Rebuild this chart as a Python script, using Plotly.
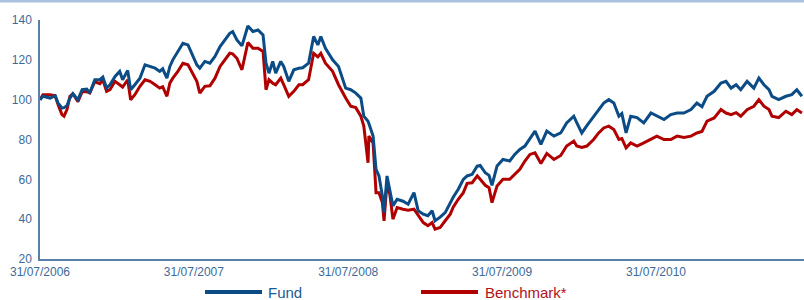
import plotly.graph_objects as go

dates = [
    "2006-07-31", "2006-08-07", "2006-08-24", "2006-09-05", "2006-09-12", "2006-09-21", "2006-09-26",
    "2006-10-03", "2006-10-10", "2006-10-17", "2006-10-29", "2006-11-08", "2006-11-19", "2006-11-26",
    "2006-12-08", "2006-12-20", "2006-12-27", "2007-01-05", "2007-01-13", "2007-01-25", "2007-02-05",
    "2007-02-12", "2007-02-24", "2007-03-03", "2007-03-13", "2007-03-25", "2007-04-06", "2007-04-18",
    "2007-04-30", "2007-05-11", "2007-05-18", "2007-05-28", "2007-06-04", "2007-06-11", "2007-06-23",
    "2007-07-05", "2007-07-17", "2007-07-26", "2007-08-07", "2007-08-14", "2007-08-26", "2007-09-07",
    "2007-09-19", "2007-10-01", "2007-10-13", "2007-10-24", "2007-10-31", "2007-11-10", "2007-11-22",
    "2007-12-06", "2007-12-18", "2007-12-30", "2008-01-11", "2008-01-18", "2008-01-25", "2008-02-03",
    "2008-02-10", "2008-02-22", "2008-02-29", "2008-03-12", "2008-03-24", "2008-04-05", "2008-04-14",
    "2008-04-28", "2008-05-10", "2008-05-20", "2008-05-27", "2008-06-07", "2008-06-24", "2008-07-08",
    "2008-07-25", "2008-08-06", "2008-08-18", "2008-08-30", "2008-09-06", "2008-09-16", "2008-09-18",
    "2008-09-28", "2008-10-05", "2008-10-12", "2008-10-20", "2008-10-24", "2008-10-31", "2008-11-07",
    "2008-11-14", "2008-11-24", "2008-12-08", "2008-12-20", "2009-01-03", "2009-01-13", "2009-01-25",
    "2009-02-05", "2009-02-15", "2009-02-22", "2009-03-06", "2009-03-18", "2009-03-30", "2009-04-06",
    "2009-04-18", "2009-04-30", "2009-05-09", "2009-05-21", "2009-06-02", "2009-06-09", "2009-06-21",
    "2009-06-30", "2009-07-07", "2009-07-19", "2009-08-02", "2009-08-18", "2009-08-30", "2009-09-11",
    "2009-09-23", "2009-10-05", "2009-10-17", "2009-10-31", "2009-11-14", "2009-12-01", "2009-12-17",
    "2009-12-31", "2010-01-17", "2010-01-24", "2010-02-05", "2010-02-17", "2010-03-05", "2010-03-17",
    "2010-03-29", "2010-04-10", "2010-04-22", "2010-05-04", "2010-05-11", "2010-05-21", "2010-06-01",
    "2010-06-16", "2010-07-02", "2010-07-19", "2010-08-02", "2010-08-19", "2010-09-04", "2010-09-19",
    "2010-10-05", "2010-10-22", "2010-11-05", "2010-11-17", "2010-11-29", "2010-12-16", "2011-01-01",
    "2011-01-13", "2011-01-25", "2011-02-06", "2011-02-17", "2011-03-04", "2011-03-20", "2011-04-01",
    "2011-04-13", "2011-04-25", "2011-05-02", "2011-05-18", "2011-06-04", "2011-06-18", "2011-06-30",
    "2011-07-12",
]

fund = [
    100, 101.7, 100.8, 102, 98.3, 95.8, 96,
    97, 100.8, 103, 100, 105, 105.3, 103.3,
    110, 110, 111.3, 105.8, 107.5, 111.7, 114.2,
    110, 114.7, 105, 107.5, 110.8, 117.5, 116.7,
    115.8, 114.2, 115.5, 110.8, 116.7, 120, 124.2,
    128.3, 127.5, 123.3, 117.5, 115.8, 119.2, 118.3,
    121.7, 126.7, 130, 133.3, 134.2, 130, 127,
    137, 134.2, 135, 132.5, 118.3, 113.3, 119.2,
    113.3, 119.2, 116.7, 109.2, 115, 115.8, 116,
    118.3, 131.7, 127.5, 131.7, 125.8, 120, 116.7,
    105.8, 105, 103.3, 100.8, 91.7, 89.2, 88,
    81.7, 65, 61.7, 51.7, 43.3, 61.7, 55,
    46.7, 50, 49, 47.5, 53.3, 44.2, 42.5,
    41.7, 44.2, 39.2, 41, 43.3, 48.3, 51,
    55, 60, 61.7, 62.5, 66.7, 67, 63.3,
    62, 57, 66.7, 70, 69.2, 72.5, 75,
    76.7, 80.8, 84.2, 77.5, 84.2, 81.7, 83.3,
    88.3, 91.7, 88.5, 83.3, 87, 91.7, 95,
    98.3, 100, 98.3, 91.7, 93, 83.3, 91.7,
    91, 88.3, 93.3, 91.7, 90, 92.5, 93.3,
    93.3, 95, 98.3, 96.5, 101.7, 104.2, 108.3,
    109.2, 105.8, 107.5, 105, 109.2, 105.8, 110.8,
    107.5, 105, 101.7, 100, 101.7, 102.5, 105,
    101.7,
]

benchmark = [
    100, 102.5, 102.5, 102, 97.5, 92.5, 91.7,
    95, 101.7, 103, 99, 104, 104, 103.3,
    109, 108, 110, 104.2, 105, 109.2, 107.5,
    106.3, 110, 100, 102.5, 106.7, 110, 109.2,
    107.5, 105.8, 106.5, 101.7, 108.3, 110.8, 114.2,
    118.3, 117.5, 114.2, 109.2, 103.3, 106.7, 107,
    110.8, 116.7, 120, 123.3, 123, 120.8, 115,
    128.7, 125.8, 125.8, 124.2, 105, 110, 108.3,
    107.5, 110.8, 107.5, 101.7, 104.2, 107.5, 107.5,
    110, 123.3, 121.5, 123.3, 118.3, 114.2, 107.5,
    100.8, 96.7, 96, 91.7, 86.7, 68.3, 81.7,
    78.3, 53.3, 53.3, 48.3, 39.2, 58.3, 52,
    40, 45.8, 45, 44.5, 45, 41.7, 38.3,
    36.7, 38.3, 35, 35.8, 39.2, 42.5, 46,
    50, 53.3, 58, 58.3, 61.7, 60, 57,
    55.8, 48.3, 56.7, 60, 60, 62.5, 65,
    69.2, 72.5, 73.3, 68, 73, 70, 72,
    76.7, 79.2, 76.7, 76, 76.7, 80, 83.3,
    85.8, 86.7, 85, 80, 80.5, 75.8, 78.3,
    76.7, 78.3, 80, 81.7, 80, 80, 81.7,
    81, 81.7, 83.3, 84, 89.2, 90.8, 95,
    93.3, 92.5, 93.5, 91.7, 95, 96.7, 100,
    96.7, 95, 91.7, 91, 94.2, 92.5, 95,
    93.3,
]

x_ticks = ["2006-07-31", "2007-07-31", "2008-07-31", "2009-07-31", "2010-07-31"]
x_tick_labels = ["31/07/2006", "31/07/2007", "31/07/2008", "31/07/2009", "31/07/2010"]
y_ticks = [20, 40, 60, 80, 100, 120, 140]

FUND_COLOR = "#0b4c86"
BENCH_COLOR = "#b00000"
AXIS_COLOR = "#5a80aa"
TEXT_COLOR = "#3d6a98"
FONT = "Liberation Sans, Arial, sans-serif"

fig = go.Figure()
fig.add_trace(go.Scatter(x=dates, y=benchmark, mode="lines", name="Benchmark*",
                         line=dict(color=BENCH_COLOR, width=3)))
fig.add_trace(go.Scatter(x=dates, y=fund, mode="lines", name="Fund",
                         line=dict(color=FUND_COLOR, width=3)))

fig.update_layout(
    width=804, height=300,
    margin=dict(l=40, r=0, t=20, b=41),
    paper_bgcolor="white", plot_bgcolor="white",
    showlegend=False,
    font=dict(family=FONT, size=12, color=TEXT_COLOR),
)
fig.update_xaxes(
    type="date", range=["2006-07-31", "2011-07-17"],
    tickvals=x_ticks, ticktext=x_tick_labels,
    showgrid=False, zeroline=False,
    showline=True, linecolor=AXIS_COLOR, linewidth=1.5,
    ticks="", ticklabelstandoff=1,
    tickfont=dict(size=12, color=TEXT_COLOR),
)
fig.update_yaxes(
    range=[20, 140], tickvals=y_ticks,
    showgrid=False, zeroline=False,
    showline=True, linecolor=AXIS_COLOR, linewidth=1.5,
    ticks="", ticklabelstandoff=4,
    tickfont=dict(size=12, color=TEXT_COLOR),
)

# top border line
fig.add_shape(type="line", xref="paper", yref="paper",
              x0=-40 / 764, x1=1, y0=(259 - 1) / 239, y1=(259 - 1) / 239,
              line=dict(color="#a9c2dd", width=3))

# custom legend
leg_y = (259 - 292) / 239
fig.add_shape(type="line", xref="paper", yref="paper",
              x0=(205 - 40) / 764, x1=(262 - 40) / 764, y0=leg_y, y1=leg_y,
              line=dict(color=FUND_COLOR, width=4))
fig.add_shape(type="line", xref="paper", yref="paper",
              x0=(421 - 40) / 764, x1=(478 - 40) / 764, y0=leg_y, y1=leg_y,
              line=dict(color=BENCH_COLOR, width=4))
fig.add_annotation(xref="paper", yref="paper", x=(266 - 40) / 764, y=leg_y,
                   text="Fund", showarrow=False, xanchor="left", yanchor="middle",
                   font=dict(family=FONT, size=15, color="#1d5a93"))
fig.add_annotation(xref="paper", yref="paper", x=(483 - 40) / 764, y=leg_y,
                   text="Benchmark*", showarrow=False, xanchor="left", yanchor="middle",
                   font=dict(family=FONT, size=15, color="#b0121a"))

fig.write_html(
    "out.html",
    config={"displayModeBar": False},
    post_script="document.body.style.margin='0';document.body.style.overflow='hidden';",
)
